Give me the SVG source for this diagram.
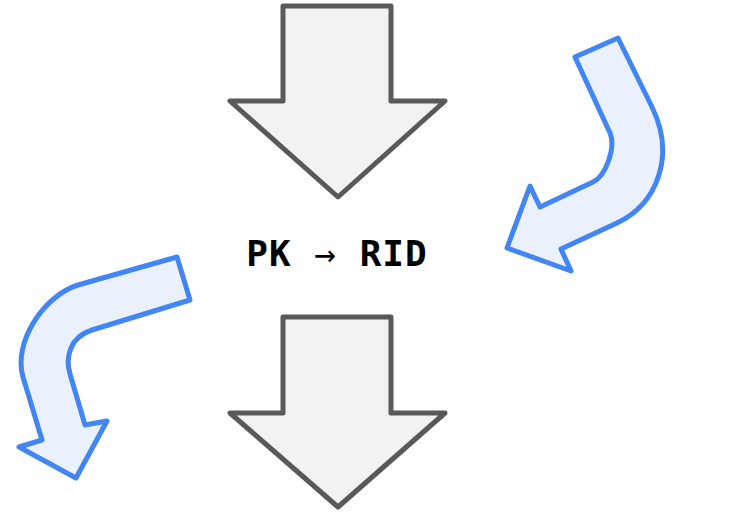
<svg xmlns="http://www.w3.org/2000/svg" width="734" height="515" viewBox="0 0 734 515">
  <style>
    .block { fill: #f2f2f2; stroke: #595959; stroke-width: 5; stroke-linejoin: round; }
    .bend { fill: #eaf1fd; stroke: #4285f4; stroke-width: 5; stroke-linejoin: round; }
    .label { font-family: "DejaVu Sans Mono", "Liberation Mono", monospace; font-weight: bold; font-size: 36px; fill: #000; }
    .thin { font-weight: normal; }
  </style>
  <rect width="734" height="515" fill="#ffffff"/>
  <g id="arrow-in">
    <path class="block" d="M283,6 L391,6 L391,101 L445,101 L338,197 L230,101 L283,101 Z"/>
  </g>
  <g id="mapping">
    <text class="label" x="337" y="266" text-anchor="middle" letter-spacing="1">PK <tspan class="thin">→</tspan> RID</text>
  </g>
  <g id="arrow-out">
    <path class="block" d="M283,317 L391,317 L391,413 L445,413 L338,507 L230,413 L283,413 Z"/>
  </g>
  <g id="bend-right">
    <path class="bend" d="M575,57 L618,38 L652,107 C676,156 657,204 617,223 L561,249 L571,271 L507,248 L530,186 L540,207 L593,182 C606,176 616,147 610,133 Z"/>
  </g>
  <g id="bend-left">
    <path class="bend" d="M177,257 L190,300 L92,330 C70,337 65,357 70,374 L85,425 L107,421 L76,478 L19,447 L42,440 L23,377 C13,343 43,296 78,285 Z"/>
  </g>
</svg>
